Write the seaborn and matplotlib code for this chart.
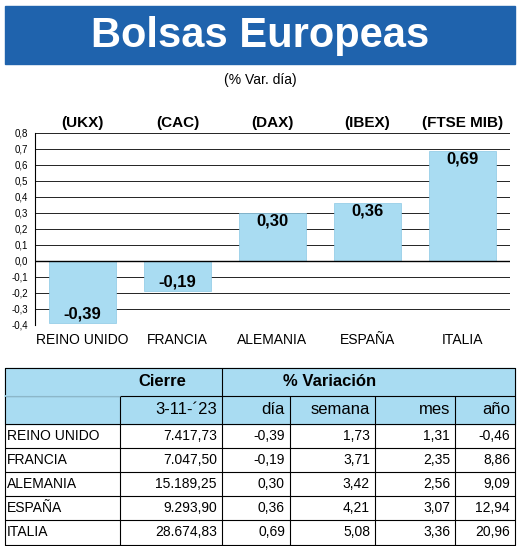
import matplotlib.pyplot as plt
import pandas as pd
import seaborn as sns

indices = ["(UKX)", "(CAC)", "(DAX)", "(IBEX)", "(FTSE MIB)"]
countries = ["REINO UNIDO", "FRANCIA", "ALEMANIA", "ESPAÑA", "ITALIA"]
var_dia = [-0.39, -0.19, 0.30, 0.36, 0.69]
cierre = ["7.417,73", "7.047,50", "15.189,25", "9.293,90", "28.674,83"]
dia = ["-0,39", "-0,19", "0,30", "0,36", "0,69"]
semana = ["1,73", "3,71", "3,42", "4,21", "5,08"]
mes = ["1,31", "2,35", "2,56", "3,07", "3,36"]
anio = ["-0,46", "8,86", "9,09", "12,94", "20,96"]
y_ticks = [0.8, 0.7, 0.6, 0.5, 0.4, 0.3, 0.2, 0.1, 0.0, -0.1, -0.2, -0.3, -0.4]

BLUE = "#1f63ad"
LIGHT = "#a9dcf2"

sns.set_style("white")
plt.rcParams["font.family"] = ["Liberation Sans", "DejaVu Sans"]
plt.rcParams["text.color"] = "black"
plt.rcParams["ytick.color"] = "black"
plt.rcParams["xtick.color"] = "black"

W, H = 520, 546
fig = plt.figure(figsize=(W / 100, H / 100), dpi=100)

# title banner
fig.patches.append(plt.Rectangle((5 / W, 1 - 64 / H), 510 / W, 58 / H,
                                 transform=fig.transFigure, color=BLUE))
fig.text(0.5, 1 - 36 / H, "Bolsas Europeas", color="white", fontsize=30,
         fontweight="bold", ha="center", va="center")
fig.text(0.5, 1 - 80 / H, "(% Var. día)", fontsize=10, ha="center", va="center")

# bar chart
ax = fig.add_axes([35 / W, 1 - 325 / H, 475 / W, 192 / H])
df = pd.DataFrame({"country": countries, "value": var_dia})
sns.barplot(data=df, x="country", y="value", color=LIGHT, width=0.7,
            edgecolor="#8cc8e4", linewidth=0.5, saturation=1, ax=ax, zorder=3)
ax.set_ylim(-0.4, 0.8)
ax.set_xlim(-0.5, 4.5)
ax.set_yticks(y_ticks)
ax.set_yticklabels([f"{t:.1f}".replace(".", ",") for t in y_ticks], fontsize=7)
for t in y_ticks:
    ax.axhline(t, color="black", lw=0.6, zorder=1)
ax.axhline(0, color="black", lw=1.0, zorder=4)
for s in ["top", "right", "bottom"]:
    ax.spines[s].set_visible(False)
ax.spines["left"].set_color("black")
ax.tick_params(axis="y", length=3, pad=2)
ax.tick_params(axis="x", length=0, pad=6)
ax.set_xticks(range(5))
ax.set_xticklabels(countries, fontsize=10)
ax.set_xlabel("")
ax.set_ylabel("")
for i, v in enumerate(var_dia):
    y = v - 0.05 if v > 0 else v + 0.06
    ax.text(i, y, f"{v:.2f}".replace(".", ","), ha="center", va="center",
            fontsize=12, fontweight="bold", zorder=5)
    ax.text(i, 0.86, indices[i], ha="center", va="center", fontsize=11,
            fontweight="bold", clip_on=False)

# table
tax = fig.add_axes([0, 0, 1, 1])
tax.set_xlim(0, W)
tax.set_ylim(H, 0)
tax.axis("off")
cols = [5, 120, 222, 290, 375, 455, 515]
rows = [368, 396, 424, 448, 472, 496, 520, 545]
tax.add_patch(plt.Rectangle((5, 368), 510, 56, color=LIGHT, zorder=0))
for y in rows:
    tax.plot([5, 515], [y, y], color="black", lw=0.8)
for x in cols:
    y0 = 368 if x in (5, 222, 515) else 396
    tax.plot([x, x], [y0, 545], color="black", lw=0.8)
tax.plot([5, 120], [396, 396], color=LIGHT, lw=1.2)
tax.text(162, 382, "Cierre", ha="center", va="center", fontsize=12, fontweight="bold")
tax.text(330, 382, "% Variación", ha="center", va="center", fontsize=12, fontweight="bold")
heads = ["3-11-´23", "día", "semana", "mes", "año"]
for j, h in enumerate(heads):
    tax.text(cols[j + 2] - 5, 410, h, ha="right", va="center", fontsize=12)
for i in range(5):
    yc = (rows[i + 2] + rows[i + 3]) / 2
    tax.text(cols[0] + 2, yc, countries[i], ha="left", va="center", fontsize=10)
    for j, vals in enumerate([cierre, dia, semana, mes, anio]):
        tax.text(cols[j + 2] - 5, yc, vals[i], ha="right", va="center", fontsize=10)

fig.savefig("out.png", dpi=100)
